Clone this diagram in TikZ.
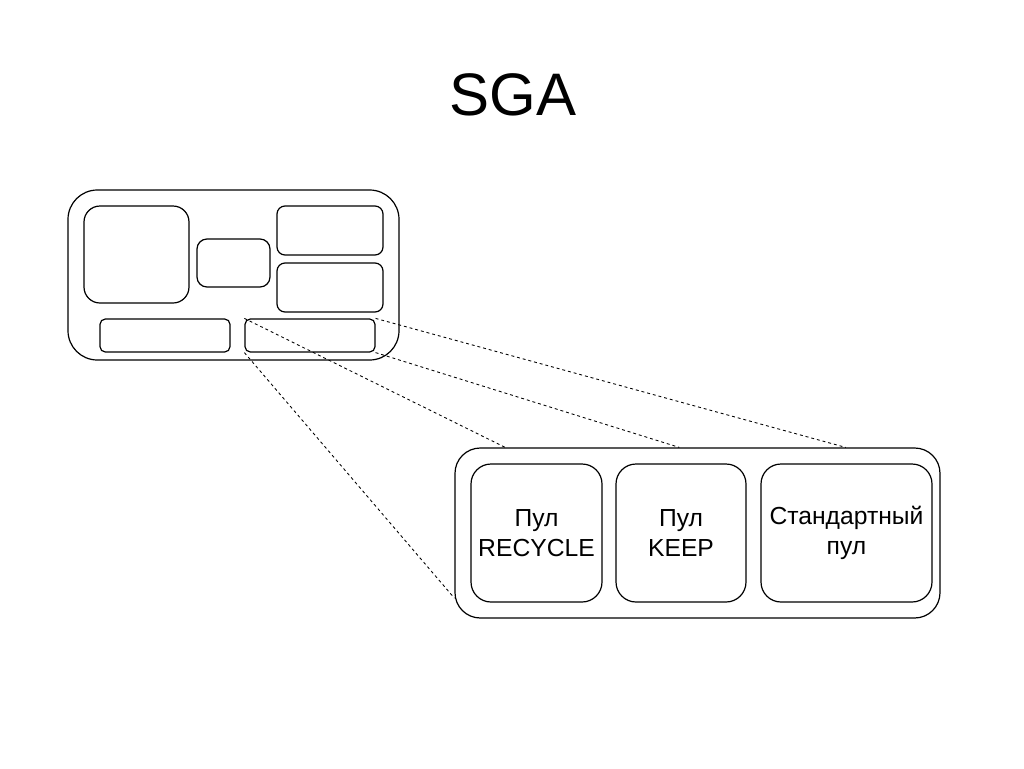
\documentclass[tikz,border=0pt]{standalone}
\usepackage{fontspec}
\setmainfont{Liberation Sans}
\begin{document}
\begin{tikzpicture}[x=0.75pt,y=-0.75pt,
   blk/.style={draw,line width=0.9pt,inner sep=0pt,rounded corners=#1},
   blk/.default=6pt,
   zoomline/.style={dash pattern=on 2.2pt off 2.2pt,line width=0.65pt},
   pooltext/.style={align=center,font=\fontsize{18.5}{22.5}\selectfont}]
   \useasboundingbox (0,0) rectangle (1024,768);
   \node (title) at (513,95) {\fontsize{45}{54}\selectfont SGA};
   \node[blk=22pt,minimum width=248.25pt,minimum height=127.5pt] (sga) at (233.5,275) {};
   \node[blk=12pt,minimum width=78.75pt,minimum height=72.75pt] (bufcache) at (136.5,254.5) {};
   \node[blk=7.5pt,minimum width=54.75pt,minimum height=36pt] (logbuf) at (233.5,263) {};
   \node[blk,minimum width=79.5pt,minimum height=36.75pt] (shpool) at (330,230.5) {};
   \node[blk,minimum width=79.5pt,minimum height=36.75pt] (lgpool) at (330,287.5) {};
   \node[blk=4pt,minimum width=97.5pt,minimum height=24.75pt] (javapool) at (165,335.5) {};
   \node[blk=4pt,minimum width=97.5pt,minimum height=24.75pt] (pools) at (310,335.5) {};
   \node[blk=19pt,minimum width=363.75pt,minimum height=127.5pt] (zoom) at (697.5,533) {};
   \node[blk=15pt,minimum width=98.25pt,minimum height=103.5pt,pooltext] (recycle) at (536.5,533) {Пул\\RECYCLE};
   \node[blk=15pt,minimum width=97.5pt,minimum height=103.5pt,pooltext] (keep) at (681,533) {Пул\\KEEP};
   \node[blk=15pt,minimum width=128.25pt,minimum height=103.5pt,pooltext] (default) at (846.5,533) {Стандартный\\пул};
   \draw[zoomline] (pools.north west) -- (zoom.156.4);
   \draw[zoomline] (pools.south west) -- (zoom.195);
   \draw[zoomline] (pools.north east) -- (zoom.30.8);
   \draw[zoomline] (pools.south east) -- (zoom.102.9);
 \end{tikzpicture}
\end{document}
